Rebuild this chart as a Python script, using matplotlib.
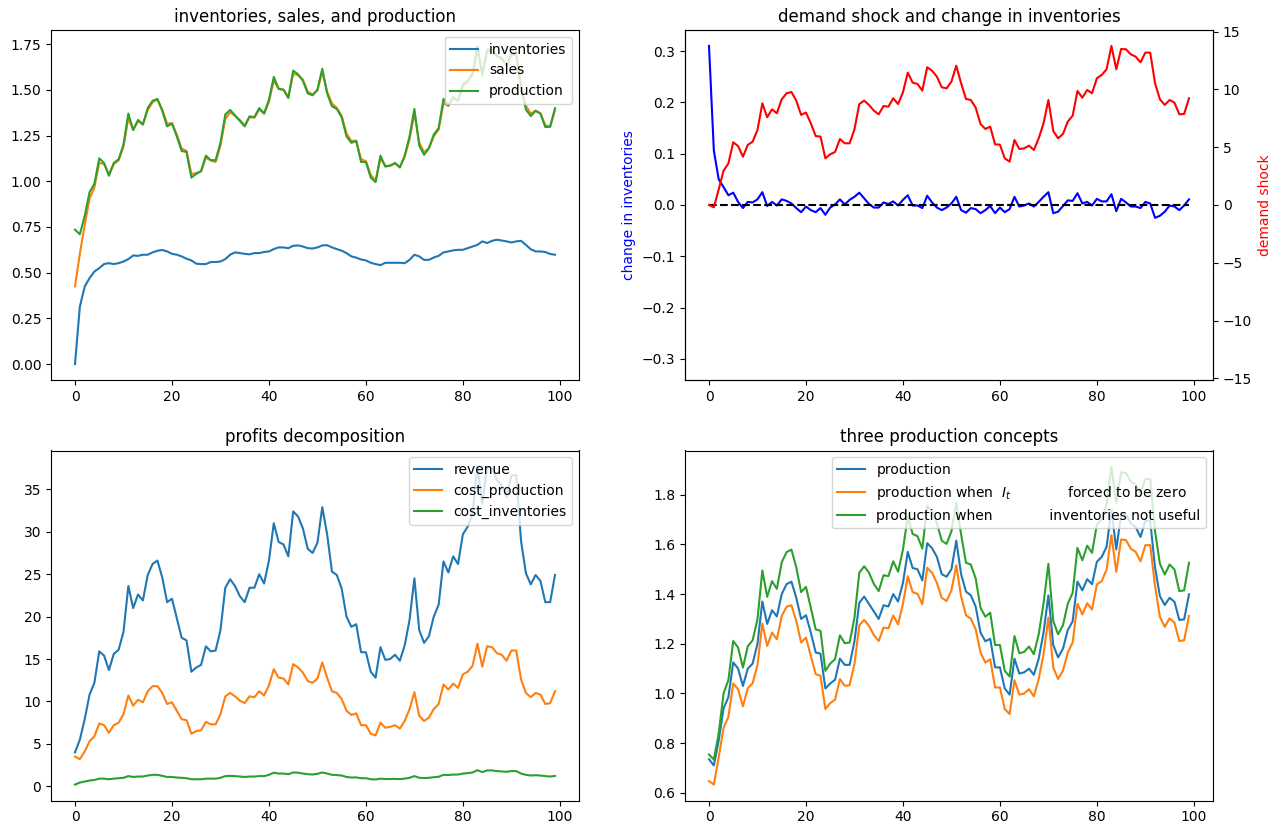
import matplotlib
matplotlib.use("Agg")
import matplotlib.pyplot as plt
import numpy as np

# values, t = 0..99
inventories = [
    0.0, 0.314, 0.424, 0.47, 0.506, 0.525, 0.547, 0.552, 0.547, 0.552,
    0.561, 0.574, 0.594, 0.592, 0.598, 0.598, 0.611, 0.62, 0.624, 0.616,
    0.603, 0.598, 0.589, 0.576, 0.567, 0.549, 0.547, 0.547, 0.558, 0.558,
    0.561, 0.574, 0.598, 0.611, 0.607, 0.603, 0.6, 0.607, 0.607, 0.613,
    0.616, 0.629, 0.638, 0.638, 0.634, 0.647, 0.649, 0.643, 0.634, 0.632,
    0.638, 0.649, 0.65, 0.638, 0.629, 0.62, 0.607, 0.589, 0.582, 0.572,
    0.567, 0.554, 0.547, 0.541, 0.554, 0.554, 0.554, 0.554, 0.552, 0.57,
    0.598, 0.589, 0.57, 0.57, 0.583, 0.592, 0.611, 0.616, 0.622, 0.625,
    0.625, 0.634, 0.643, 0.652, 0.671, 0.662, 0.674, 0.68, 0.676, 0.671,
    0.665, 0.671, 0.674, 0.652, 0.628, 0.616, 0.616, 0.613, 0.602, 0.598,
]
sales = [
    0.425, 0.604, 0.76, 0.905, 0.966, 1.101, 1.094, 1.036, 1.094, 1.115,
    1.189, 1.345, 1.282, 1.329, 1.311, 1.389, 1.432, 1.447, 1.391, 1.314,
    1.318, 1.255, 1.179, 1.166, 1.039, 1.045, 1.054, 1.129, 1.114, 1.105,
    1.194, 1.341, 1.377, 1.358, 1.335, 1.305, 1.35, 1.348, 1.393, 1.371,
    1.435, 1.551, 1.506, 1.501, 1.461, 1.587, 1.58, 1.555, 1.49, 1.475,
    1.497, 1.599, 1.49, 1.425, 1.401, 1.358, 1.261, 1.22, 1.222, 1.121,
    1.11, 1.034, 1.003, 1.124, 1.083, 1.086, 1.097, 1.078, 1.134, 1.229,
    1.37, 1.211, 1.158, 1.182, 1.246, 1.282, 1.427, 1.412, 1.454, 1.441,
    1.518, 1.543, 1.583, 1.719, 1.592, 1.708, 1.715, 1.688, 1.673, 1.636,
    1.689, 1.692, 1.531, 1.413, 1.369, 1.386, 1.372, 1.306, 1.299, 1.388,
]
production = [
    0.735, 0.71, 0.81, 0.94, 0.985, 1.125, 1.10, 1.03, 1.10, 1.12,
    1.20, 1.37, 1.28, 1.335, 1.31, 1.40, 1.44, 1.45, 1.385, 1.30,
    1.315, 1.245, 1.165, 1.16, 1.02, 1.04, 1.055, 1.14, 1.115, 1.115,
    1.21, 1.365, 1.39, 1.36, 1.33, 1.30, 1.355, 1.35, 1.40, 1.37,
    1.445, 1.57, 1.505, 1.50, 1.455, 1.605, 1.585, 1.55, 1.48, 1.47,
    1.50, 1.615, 1.48, 1.41, 1.395, 1.35, 1.245, 1.21, 1.22, 1.105,
    1.105, 1.02, 0.995, 1.14, 1.08, 1.085, 1.10, 1.075, 1.14, 1.245,
    1.395, 1.195, 1.145, 1.18, 1.255, 1.29, 1.45, 1.415, 1.46, 1.44,
    1.53, 1.55, 1.59, 1.74, 1.58, 1.72, 1.72, 1.685, 1.67, 1.63,
    1.695, 1.695, 1.506, 1.392, 1.356, 1.385, 1.369, 1.296, 1.298, 1.399,
]
change_inv = [
    0.31, 0.106, 0.05, 0.035, 0.019, 0.024, 0.006, -0.006, 0.006, 0.005,
    0.011, 0.025, -0.002, 0.006, -0.001, 0.011, 0.008, 0.003, -0.006, -0.014,
    -0.003, -0.01, -0.014, -0.006, -0.019, -0.005, 0.001, 0.011, 0.001, 0.01,
    0.016, 0.024, 0.013, 0.002, -0.005, -0.005, 0.005, 0.002, 0.007, -0.001,
    0.01, 0.019, -0.001, -0.001, -0.006, 0.018, 0.005, -0.005, -0.01, -0.005,
    0.003, 0.016, -0.01, -0.015, -0.006, -0.008, -0.016, -0.01, -0.002, -0.016,
    -0.005, -0.014, -0.008, 0.016, -0.003, -0.001, 0.003, -0.003, 0.006, 0.016,
    0.025, -0.016, -0.013, -0.002, 0.009, 0.008, 0.023, 0.003, 0.006, -0.001,
    0.012, 0.007, 0.007, 0.021, -0.012, 0.012, 0.005, -0.003, -0.003, -0.006,
    0.006, 0.003, -0.025, -0.021, -0.013, -0.001, -0.003, -0.01, -0.001, 0.011,
]
demand_shock = [
    0.0, -0.2, 1.35, 2.97, 3.6, 5.43, 5.1, 4.18, 5.2, 5.48,
    6.5, 8.8, 7.6, 8.28, 7.94, 9.15, 9.67, 9.78, 9.03, 7.8,
    8.0, 7.07, 5.97, 5.92, 4.04, 4.39, 4.59, 5.71, 5.34, 5.34,
    6.55, 8.74, 9.03, 8.66, 8.17, 7.85, 8.57, 8.51, 9.24, 8.74,
    9.75, 11.46, 10.59, 10.48, 9.9, 11.92, 11.63, 11.11, 10.19, 10.1,
    10.68, 12.06, 10.53, 9.18, 9.09, 8.43, 7.01, 6.58, 6.78, 5.25,
    5.22, 4.04, 3.75, 5.63, 4.85, 4.9, 5.14, 4.76, 5.77, 7.07,
    9.09, 6.41, 5.77, 6.15, 7.22, 7.73, 9.87, 9.29, 9.96, 9.67,
    10.97, 11.26, 11.75, 13.77, 11.75, 13.5, 13.48, 13.04, 12.84, 12.35,
    13.19, 13.19, 10.53, 9.15, 8.66, 9.09, 8.86, 7.85, 7.88, 9.24,
]
revenue = [
    4.0, 5.5, 7.9, 10.8, 12.2, 15.9, 15.4, 13.7, 15.6, 16.1,
    18.2, 23.6, 21.0, 22.6, 21.9, 24.9, 26.2, 26.6, 24.6, 21.7,
    22.1, 19.8, 17.5, 17.2, 13.5, 14.0, 14.3, 16.5, 15.9, 16.0,
    18.4, 23.4, 24.4, 23.6, 22.4, 21.7, 23.4, 23.4, 25.0, 23.9,
    26.6, 31.0, 28.8, 28.5, 27.1, 32.4, 31.8, 30.4, 28.0, 27.5,
    28.7, 32.9, 29.7, 25.3, 24.9, 23.3, 20.0, 18.8, 19.1, 15.8,
    15.8, 13.5, 12.8, 16.4, 14.9, 15.0, 15.5, 14.8, 16.6, 19.6,
    24.5, 18.4, 16.9, 17.7, 20.0, 21.4, 26.5, 25.2, 27.1, 26.2,
    29.7, 30.6, 32.1, 37.7, 33.3, 37.7, 37.5, 36.1, 35.5, 34.1,
    36.6, 36.7, 28.9, 25.1, 23.8, 24.9, 24.2, 21.7, 21.7, 24.9,
]
cost_production = [
    3.5, 3.2, 4.1, 5.3, 5.9, 7.4, 7.2, 6.3, 7.2, 7.5,
    8.5, 10.7, 9.5, 10.2, 9.9, 11.2, 11.8, 11.8, 11.0, 9.7,
    9.9, 8.9, 7.9, 7.8, 6.2, 6.5, 6.6, 7.6, 7.3, 7.3,
    8.5, 10.6, 11.0, 10.6, 10.1, 9.8, 10.6, 10.5, 11.2, 10.7,
    11.9, 13.8, 12.8, 12.7, 12.0, 14.4, 14.0, 13.4, 12.4, 12.2,
    12.7, 14.6, 12.8, 11.2, 11.0, 10.3, 8.9, 8.4, 8.6, 7.2,
    7.2, 6.2, 6.0, 7.5, 6.9, 7.0, 7.2, 6.8, 7.7, 9.1,
    11.1, 8.3, 7.7, 8.1, 9.1, 9.7, 12.0, 11.4, 12.1, 11.6,
    13.2, 13.5, 14.2, 16.8, 14.1, 16.5, 16.4, 15.7, 15.5, 14.8,
    16.0, 16.0, 12.6, 11.0, 10.5, 11.0, 10.8, 9.7, 9.8, 11.2,
]
cost_inventories = [
    0.2, 0.44, 0.56, 0.68, 0.75, 0.9, 0.9, 0.83, 0.9, 0.95,
    1.0, 1.2, 1.1, 1.15, 1.15, 1.27, 1.35, 1.35, 1.23, 1.1,
    1.1, 1.03, 1.0, 0.95, 0.83, 0.83, 0.83, 0.9, 0.9, 0.9,
    1.0, 1.2, 1.23, 1.2, 1.15, 1.1, 1.15, 1.15, 1.2, 1.2,
    1.35, 1.6, 1.5, 1.5, 1.43, 1.63, 1.6, 1.5, 1.43, 1.39,
    1.47, 1.63, 1.5, 1.35, 1.32, 1.27, 1.1, 1.03, 1.05, 0.95,
    0.95, 0.83, 0.8, 0.9, 0.86, 0.86, 0.87, 0.85, 0.9, 1.0,
    1.2, 1.0, 0.97, 1.0, 1.07, 1.12, 1.35, 1.32, 1.38, 1.38,
    1.5, 1.55, 1.63, 1.9, 1.67, 1.87, 1.87, 1.79, 1.75, 1.71,
    1.79, 1.79, 1.5, 1.35, 1.27, 1.31, 1.27, 1.2, 1.15, 1.22,
]
production_no_inv = [
    0.647, 0.633, 0.743, 0.861, 0.906, 1.04, 1.017, 0.948, 1.021, 1.041,
    1.115, 1.281, 1.191, 1.245, 1.218, 1.312, 1.349, 1.355, 1.292, 1.205,
    1.225, 1.151, 1.078, 1.071, 0.937, 0.961, 0.975, 1.058, 1.031, 1.033,
    1.118, 1.274, 1.296, 1.272, 1.235, 1.211, 1.265, 1.262, 1.314, 1.278,
    1.361, 1.472, 1.408, 1.401, 1.359, 1.506, 1.486, 1.445, 1.385, 1.372,
    1.415, 1.516, 1.39, 1.315, 1.301, 1.258, 1.165, 1.124, 1.138, 1.024,
    1.024, 0.937, 0.917, 1.053, 0.995, 1.0, 1.017, 0.988, 1.058, 1.158,
    1.305, 1.104, 1.058, 1.091, 1.165, 1.205, 1.361, 1.318, 1.363, 1.338,
    1.439, 1.452, 1.499, 1.637, 1.49, 1.62, 1.617, 1.583, 1.57, 1.532,
    1.597, 1.597, 1.432, 1.308, 1.268, 1.302, 1.285, 1.211, 1.214, 1.312,
]
production_not_useful = [
    0.754, 0.734, 0.839, 1.0, 1.054, 1.211, 1.185, 1.104, 1.19, 1.214,
    1.298, 1.495, 1.389, 1.452, 1.421, 1.528, 1.569, 1.579, 1.508, 1.408,
    1.429, 1.345, 1.258, 1.252, 1.091, 1.12, 1.138, 1.234, 1.202, 1.205,
    1.305, 1.486, 1.512, 1.486, 1.441, 1.412, 1.476, 1.472, 1.532, 1.49,
    1.579, 1.713, 1.642, 1.633, 1.583, 1.756, 1.733, 1.686, 1.615, 1.602,
    1.653, 1.767, 1.64, 1.526, 1.519, 1.463, 1.345, 1.309, 1.325, 1.195,
    1.195, 1.091, 1.068, 1.231, 1.162, 1.167, 1.189, 1.158, 1.238, 1.363,
    1.522, 1.292, 1.238, 1.274, 1.361, 1.405, 1.586, 1.536, 1.595, 1.566,
    1.68, 1.70, 1.76, 1.914, 1.767, 1.89, 1.887, 1.853, 1.84, 1.809,
    1.863, 1.863, 1.653, 1.522, 1.479, 1.519, 1.499, 1.412, 1.415, 1.526,
]

W, H = 1281, 834


def place(x0, y0, x1, y1):
    # pixel box (top-left origin) -> figure fraction
    return [x0 / W, 1 - y1 / H, (x1 - x0) / W, (y1 - y0) / H]


fig = plt.figure(figsize=(W / 100, H / 100), dpi=100)
ax1 = fig.add_axes(place(51, 30, 579, 380))
ax2 = fig.add_axes(place(685, 30, 1213, 380))
ax3 = fig.add_axes(place(51, 450.5, 579, 800.5))
ax4 = fig.add_axes(place(685, 450.5, 1213, 800.5))

# inventories, sales, production
ax1.plot(inventories, label="inventories")
ax1.plot(sales, label="sales")
ax1.plot(production, label="production")
ax1.set_title("inventories, sales, and production")
ax1.legend(loc="upper right")

# demand shock vs change in inventories
ax2.plot(change_inv, color="b")
ax2.plot(np.zeros(len(change_inv)), "k--")
lim = 1.1 * np.max(np.abs(change_inv))
ax2.set_ylim(-lim, lim)
ax2.set_ylabel("change in inventories", color="b")
ax2.set_title("demand shock and change in inventories")
ax2b = ax2.twinx()
ax2b.plot(demand_shock, color="r")
lim2 = 1.1 * np.max(np.abs(demand_shock))
ax2b.set_ylim(-lim2, lim2)
ax2b.set_ylabel("demand shock", color="r")

# profits
ax3.plot(revenue, label="revenue")
ax3.plot(cost_production, label="cost_production")
ax3.plot(cost_inventories, label="cost_inventories")
ax3.set_title("profits decomposition")
ax3.legend(loc="upper right")

# production concepts
gap = " " * 13
ax4.plot(production, label="production")
ax4.plot(production_no_inv, label="production when  $I_t$" + gap + "forced to be zero")
ax4.plot(production_not_useful, label="production when" + gap + "inventories not useful")
ax4.set_title("three production concepts")
ax4.legend(loc="upper right")

fig.savefig("out.png", dpi=100)
